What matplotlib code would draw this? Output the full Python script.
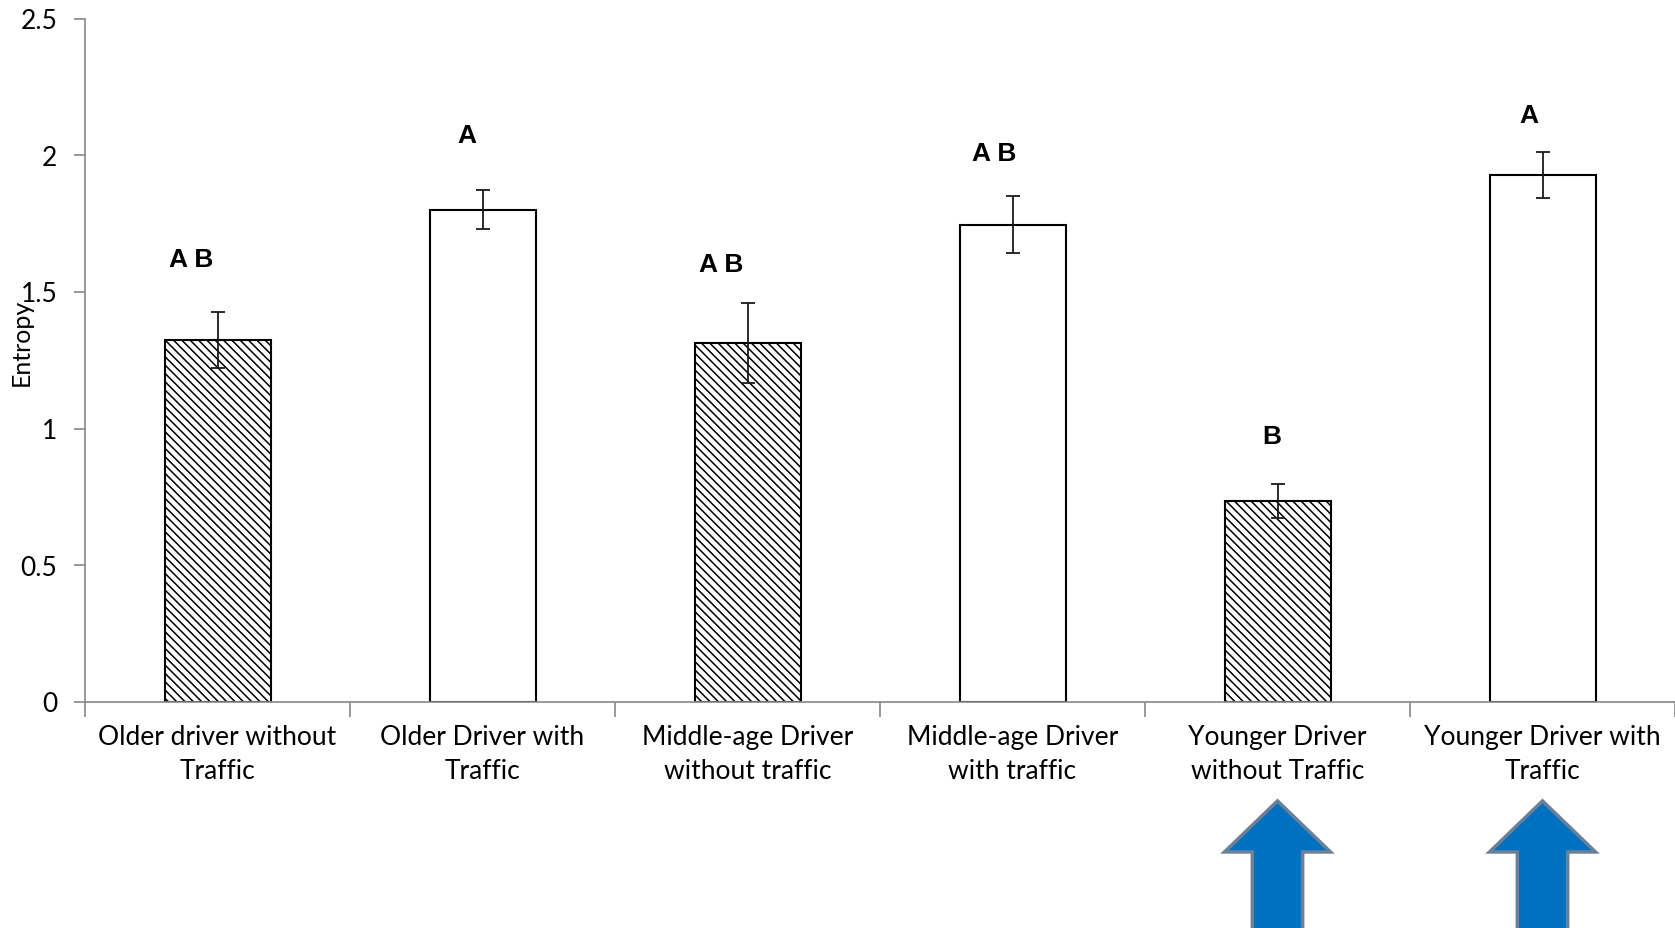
import numpy as np
import matplotlib
matplotlib.use("Agg")
import matplotlib.pyplot as plt
from matplotlib.patches import Polygon
import matplotlib.transforms as mtransforms

categories = ["Older driver without\nTraffic", "Older Driver with\nTraffic",
              "Middle-age Driver\nwithout traffic", "Middle-age Driver\nwith traffic",
              "Younger Driver\nwithout Traffic", "Younger Driver with\nTraffic"]
entropy = [1.325, 1.80, 1.313, 1.746, 0.734, 1.926]
err = [0.103, 0.071, 0.145, 0.105, 0.063, 0.084]
hatched = [True, False, True, False, True, False]
letters = ["A B", "A", "A B", "A B", "B", "A"]
letter_y = [1.617, 2.072, 1.60, 2.005, 0.97, 2.145]
letter_dx = [-0.10, -0.06, -0.10, -0.07, -0.02, -0.05]
arrow_at = [4, 5]

plt.rcParams["font.family"] = ["Lato", "DejaVu Sans"]
plt.rcParams["hatch.linewidth"] = 1.1

fig = plt.figure(figsize=(16.75, 9.285), dpi=100)
ax = fig.add_axes([85 / 1675, 1 - 702 / 928, 1 - 85 / 1675, (702 - 19) / 928])

x = np.arange(len(categories))
for i in x:
    ax.bar(i, entropy[i], width=0.4, color="white", edgecolor="black",
           linewidth=1.5, hatch="\\\\\\\\" if hatched[i] else None, zorder=2)
ax.errorbar(x, entropy, yerr=err, fmt="none", ecolor="#1a1a1a",
            elinewidth=1.3, capsize=5, capthick=1.3, zorder=3)

for i in x:
    ax.text(i + letter_dx[i], letter_y[i], letters[i], ha="center", va="center",
            fontsize=19, fontweight="bold", family="Liberation Sans")

ax.set_xlim(-0.5, len(categories) - 0.5)
ax.set_ylim(0, 2.5)
ax.set_yticks([0, 0.5, 1, 1.5, 2, 2.5])
ax.set_yticklabels(["0", "0.5", "1", "1.5", "2", "2.5"])
ax.set_xticks(x)
ax.set_xticklabels(categories, fontsize=19, linespacing=1.45)
ax.set_xticks(np.arange(-0.5, len(categories)), minor=True)
ax.tick_params(axis="x", which="major", length=0, pad=16)
ax.tick_params(axis="x", which="minor", length=11, color="#888888", width=1.2)
ax.tick_params(axis="y", length=8, color="#888888", width=1.2, labelsize=19, pad=12)

for s in ["top", "right"]:
    ax.spines[s].set_visible(False)
for s in ["left", "bottom"]:
    ax.spines[s].set_color("#888888")
    ax.spines[s].set_linewidth(1.2)

fig.text(21 / 1675, 1 - 342 / 928, "Entropy", rotation=90, ha="center",
         va="center", fontsize=18)

# block arrows under the younger-driver groups
trans = mtransforms.blended_transform_factory(ax.transData, fig.transFigure)
for i in arrow_at:
    hw, sw = 0.2, 0.095
    top, neck, bot = 1 - 801 / 928, 1 - 852 / 928, -0.02
    pts = [(i, top), (i + hw, neck), (i + sw, neck), (i + sw, bot),
           (i - sw, bot), (i - sw, neck), (i - hw, neck)]
    fig.patches.append(Polygon(pts, closed=True, transform=trans,
                               facecolor="#0070C0", edgecolor="#6A8099",
                               linewidth=2.5))

fig.savefig("out.png", dpi=100)
